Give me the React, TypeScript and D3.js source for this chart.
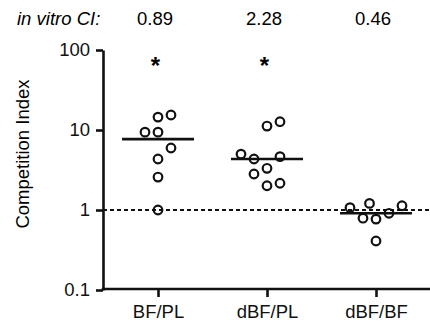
import { useEffect, useRef } from "react";
import * as d3 from "d3";

const categories = ["BF/PL", "dBF/PL", "dBF/BF"];
const inVitroCI = ["0.89", "2.28", "0.46"];
const significant = [true, true, false];

const bfplValues = [15.4, 14.5, 9.4, 9.4, 5.96, 4.34, 2.58, 1.0];
const bfplSlots = [1, 0, -1, 0, 1, 0, 0, 0];

const dbfplValues = [12.7, 11.2, 5.0, 4.34, 4.64, 3.32, 2.82, 2.16, 2.01];
const dbfplSlots = [1, 0, -2, -1, 1, 0, -1, 1, 0];

const dbfbfValues = [1.07, 1.21, 1.13, 0.91, 0.79, 0.77, 0.41];
const dbfbfSlots = [-2, -0.5, 2, 1, -1, 0, 0];

const yTicks = [0.1, 1, 10, 100];
const yTickLabels = ["0.1", "1", "10", "100"];

const groups = [
  { values: bfplValues, slots: bfplSlots },
  { values: dbfplValues, slots: dbfplSlots },
  { values: dbfbfValues, slots: dbfbfSlots },
];

const App = () => {
  const divRef = useRef(null);

  useEffect(() => {
    if (!divRef.current) return;
    const width = 430;
    const height = 323;
    const font = "'Liberation Sans', Arial, sans-serif";
    d3.select(divRef.current).selectAll("svg").remove();
    const svg = d3
      .select(divRef.current)
      .append("svg")
      .attr("width", width)
      .attr("height", height)
      .style("display", "block")
      .style("background", "#fff")
      .style("font-family", font);

    const axisX = 103;
    const yScale = d3.scaleLog().domain([0.1, 100]).range([290, 50]);
    const xScale = d3.scalePoint().domain(categories).range([158, 376]);
    const slotWidth = 13;

    // header row
    svg
      .append("text")
      .attr("x", 17)
      .attr("y", 25)
      .style("font-size", "18.5px")
      .style("font-style", "italic")
      .text("in vitro CI:");

    svg
      .append("g")
      .selectAll("text")
      .data(categories)
      .join("text")
      .attr("x", (d) => xScale(d) - 3)
      .attr("y", 25)
      .attr("text-anchor", "middle")
      .style("font-size", "18.5px")
      .text((d, i) => inVitroCI[i]);

    // asterisks
    svg
      .append("g")
      .selectAll("text")
      .data(categories.filter((d, i) => significant[i]))
      .join("text")
      .attr("x", (d) => xScale(d) - 2.5)
      .attr("y", 74)
      .attr("text-anchor", "middle")
      .style("font-size", "24px")
      .style("font-weight", "bold")
      .text("*");

    // y axis
    const yAxis = d3
      .axisLeft(yScale)
      .tickValues(yTicks)
      .tickFormat((d, i) => yTickLabels[i])
      .tickSizeInner(7)
      .tickSizeOuter(0)
      .tickPadding(6);
    const yAxisGroup = svg
      .append("g")
      .attr("transform", `translate(${axisX},0)`)
      .call(yAxis);
    yAxisGroup.select(".domain").attr("stroke", "#111").attr("stroke-width", 2.6);
    yAxisGroup.selectAll(".tick line").attr("stroke", "#111").attr("stroke-width", 2.6);
    yAxisGroup
      .selectAll(".tick text")
      .attr("fill", "#111")
      .style("font-size", "18.5px")
      .style("font-family", font);

    // x axis
    const xAxis = d3.axisBottom(xScale).tickSizeInner(8).tickSizeOuter(0).tickPadding(8);
    const xAxisGroup = svg
      .append("g")
      .attr("transform", `translate(0,${yScale(0.1) - 1})`)
      .call(xAxis);
    xAxisGroup
      .select(".domain")
      .attr("d", `M${axisX - 1.3},0H${width}`)
      .attr("stroke", "#111")
      .attr("stroke-width", 2.6);
    xAxisGroup.selectAll(".tick line").attr("stroke", "#111").attr("stroke-width", 2.6);
    xAxisGroup
      .selectAll(".tick text")
      .attr("fill", "#111")
      .style("font-size", "18.5px")
      .style("font-family", font);

    // y title
    svg
      .append("text")
      .attr("transform", `translate(29,${yScale(1) - 56}) rotate(-90)`)
      .attr("text-anchor", "middle")
      .style("font-size", "18.5px")
      .text("Competition Index");

    // reference line at CI = 1
    svg
      .append("line")
      .attr("x1", axisX)
      .attr("x2", width)
      .attr("y1", yScale(1))
      .attr("y2", yScale(1))
      .attr("stroke", "#111")
      .attr("stroke-width", 2)
      .attr("stroke-dasharray", "4,3");

    // points and medians
    groups.forEach((g, gi) => {
      const cx = xScale(categories[gi]);
      const med = d3.median(g.values);
      svg
        .append("line")
        .attr("x1", cx - 36)
        .attr("x2", cx + 36)
        .attr("y1", yScale(med))
        .attr("y2", yScale(med))
        .attr("stroke", "#111")
        .attr("stroke-width", 2.6);

      svg
        .append("g")
        .selectAll("circle")
        .data(g.values)
        .join("circle")
        .attr("cx", (d, i) => cx + g.slots[i] * slotWidth)
        .attr("cy", (d) => yScale(d))
        .attr("r", 4.3)
        .attr("fill", "#fff")
        .attr("fill-opacity", 0)
        .attr("stroke", "#111")
        .attr("stroke-width", 2.2);
    });
  }, []);

  return (
    <div
      ref={divRef}
      style={{ position: "absolute", left: 0, top: 0, width: 430, height: 323 }}
    ></div>
  );
};

export default App;
